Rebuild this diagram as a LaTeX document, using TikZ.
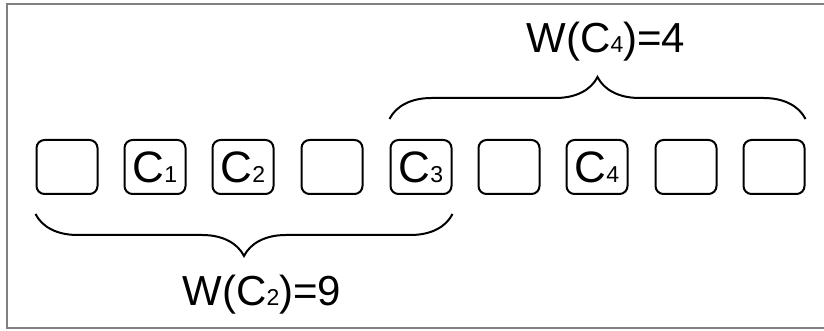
\documentclass[tikz,border=0pt]{standalone}
\usepackage{fontspec}
\setmainfont{Liberation Sans}
\usepackage{tikz}
\usetikzlibrary{decorations.pathreplacing}
\usetikzlibrary{calc}

\newcommand{\lbl}[1]{{\fontsize{11.5pt}{12pt}\selectfont #1}}
\tikzset{
	cell/.style={draw, line width=1pt, rounded corners=4pt, minimum width=30.5pt, minimum height=27pt, inner sep=0pt, font=\fontsize{22pt}{24pt}\selectfont},
	bracket/.style={decorate, decoration={brace, amplitude=21pt}, line width=1pt},
	weight/.style={anchor=base, inner sep=0pt, font=\fontsize{21pt}{24pt}\selectfont}
}

\begin{document}
\begin{tikzpicture}[x=0.5pt, y=-0.5pt]
	\useasboundingbox (0, 0) rectangle (824, 331);
	\draw[line width=1pt, gray] (830, 4) -- (7, 4) -- (7, 328) -- (830, 328);

	\node[cell] (b1) at (67, 167) {};
	\node[cell] (b2) at (155, 167) {C\lbl{1}};
	\node[cell] (b3) at (243, 167) {C\lbl{2}};
	\node[cell] (b4) at (332, 167) {};
	\node[cell] (b5) at (421, 167) {C\lbl{3}};
	\node[cell] (b6) at (509, 167) {};
	\node[cell] (b7) at (597, 167) {C\lbl{4}};
	\node[cell] (b8) at (686, 167) {};
	\node[cell] (b9) at (774, 167) {};

	\draw[bracket] ([yshift=10pt]b5.north west) -- ([yshift=10pt]b9.north east);
	\draw[bracket] ([yshift=-9.5pt]b5.south east) -- ([yshift=-9.5pt]b1.south west);

	\node[weight] (w4) at (606, 53) {W(C\lbl{4})=4};
	\node[weight] (w2) at (262, 305) {W(C\lbl{2})=9};
\end{tikzpicture}
\end{document}
